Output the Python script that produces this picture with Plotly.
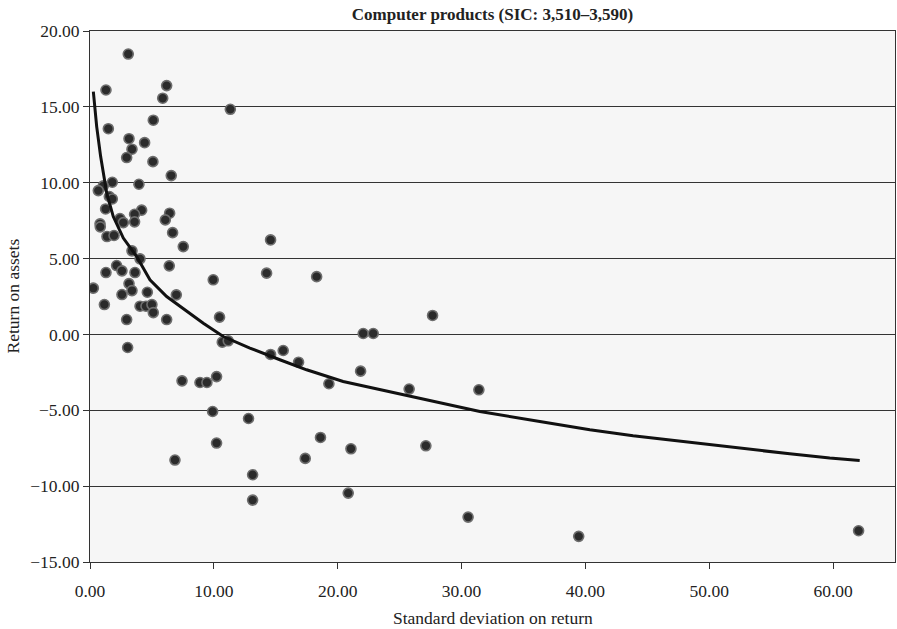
import plotly.graph_objects as go

# Scatter data: standard deviation on return (x) vs return on assets (y)
std_dev = [1.29, 6.19, 5.87, 11.33, 1.48, 5.11, 3.15, 4.41, 3.39, 2.96, 5.08, 6.56,
           1.80, 1.07, 0.67, 3.95, 1.56, 1.80, 1.26, 4.17, 3.60, 6.43, 2.42, 2.69,
           3.60, 6.08, 0.81, 0.83, 1.37, 1.94, 6.67, 7.53, 3.39, 4.04, 2.15, 1.29,
           2.58, 3.63, 6.40, 9.95, 0.27, 3.15, 3.39, 4.63, 2.58, 6.97, 1.16, 4.04,
           4.52, 5.00, 5.11, 10.46, 2.96, 6.19, 10.68, 11.16, 3.04, 7.43, 8.88, 9.44,
           10.22, 9.90, 12.80, 10.22, 6.86, 13.13, 13.13, 14.58, 15.60, 16.84, 19.29,
           18.61, 17.38, 21.85, 22.06, 22.87, 21.07, 20.85, 27.66, 25.77, 27.12,
           14.58, 14.26, 18.30, 3.09, 31.40, 30.53, 39.46, 62.06]
roa = [16.11, 16.40, 15.57, 14.84, 13.56, 14.12, 12.90, 12.64, 12.21, 11.66, 11.39, 10.47,
       10.03, 9.79, 9.48, 9.90, 9.09, 8.93, 8.27, 8.19, 7.92, 7.99, 7.64, 7.37,
       7.42, 7.55, 7.29, 7.09, 6.45, 6.52, 6.71, 5.79, 5.51, 4.98, 4.54, 4.08,
       4.19, 4.08, 4.52, 3.60, 3.05, 3.35, 2.89, 2.78, 2.63, 2.61, 1.97, 1.86,
       1.86, 1.97, 1.44, 1.14, 0.98, 0.98, -0.51, -0.42, -0.86, -3.06, -3.17, -3.17,
       -2.78, -5.08, -5.54, -7.16, -8.28, -9.25, -10.92, -1.32, -1.06, -1.83, -3.25,
       -6.79, -8.17, -2.42, 0.06, 0.06, -7.54, -10.46, 1.25, -3.60, -7.34,
       6.23, 4.04, 3.81, 18.48, -3.65, -12.04, -13.31, -12.94]

# Fitted trend curve
trend_x = [0.27, 0.54, 0.86, 1.35, 1.88, 2.69, 3.77, 4.84, 6.19, 7.80, 9.15, 10.76,
           12.91, 15.33, 17.49, 20.44, 22.87, 25.83, 28.25, 31.48, 36.32, 40.36,
           43.85, 48.43, 52.46, 56.50, 59.73, 62.15]
trend_y = [16.0, 13.7, 11.72, 9.31, 7.77, 6.35, 5.13, 3.6, 2.5, 1.51, 0.74, -0.14,
           -0.9, -1.67, -2.33, -3.1, -3.54, -4.09, -4.53, -5.08, -5.74, -6.28,
           -6.68, -7.12, -7.49, -7.87, -8.15, -8.31]

title_text = "Computer products (SIC: 3,510\u20133,590)"
x_title = "Standard deviation on return"
y_title = "Return on assets"

FONT = "Liberation Serif, Times New Roman, serif"
TXT = "#222222"

W, H = 897, 629
ML, MR, MT, MB = 90, 2, 31, 67
PW, PH = W - ML - MR, H - MT - MB

fig = go.Figure()
fig.add_trace(go.Scatter(
    x=std_dev, y=roa, mode="markers",
    marker=dict(size=10, color="#2b2b2b", line=dict(color="#6e6e6e", width=1.6)),
    showlegend=False, hoverinfo="x+y"))
fig.add_trace(go.Scatter(
    x=trend_x, y=trend_y, mode="lines", line=dict(color="#111111", width=3),
    showlegend=False, hoverinfo="skip"))

fig.update_layout(
    width=W, height=H,
    margin=dict(l=ML, r=MR, t=MT, b=MB, autoexpand=False),
    paper_bgcolor="white", plot_bgcolor="#f6f6f6",
    font=dict(family=FONT, size=17.5, color=TXT),
    title=dict(text="<b>" + title_text + "</b>", x=0.5, xref="paper",
               xanchor="center",
               y=1 - 14.5 / H, yref="container", yanchor="middle",
               font=dict(family=FONT, size=17, color=TXT)),
    annotations=[
        dict(text=x_title, xref="paper", yref="paper", x=0.5,
             y=-(618 - (H - MB)) / PH, xanchor="center", yanchor="middle",
             showarrow=False, font=dict(family=FONT, size=17.5, color=TXT)),
        dict(text=y_title, xref="paper", yref="paper", x=(12 - ML) / PW,
             y=0.5, xanchor="center", yanchor="middle", textangle=-90,
             showarrow=False, font=dict(family=FONT, size=17.5, color=TXT)),
    ],
)
fig.update_xaxes(
    range=[0, 65], tick0=0, dtick=10, tickformat=".2f", automargin=False,
    showgrid=False, zeroline=False,
    showline=True, linecolor="#333333", linewidth=1, mirror=True,
    ticks="outside", ticklen=6, tickcolor="#333333", ticklabelstandoff=7,
)
fig.update_yaxes(
    range=[-15, 20], tick0=-15, dtick=5, tickformat=".2f", automargin=False,
    showgrid=True, gridcolor="#333333", gridwidth=1, zeroline=False,
    showline=True, linecolor="#333333", linewidth=1, mirror=True,
    ticks="outside", ticklen=6, tickcolor="#333333",
)

fig.write_html("out.html",
               config={"displayModeBar": False},
               post_script="document.body.style.margin='0';"
                           "document.body.style.overflow='hidden';")
